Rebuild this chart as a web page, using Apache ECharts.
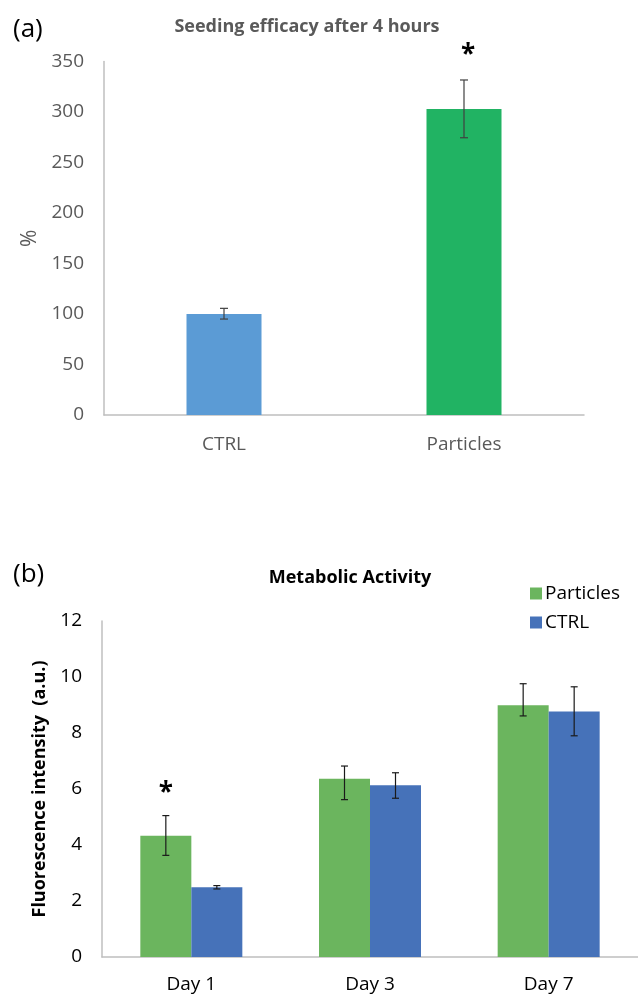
<!DOCTYPE html>
<html>
<head>
<meta charset="utf-8">
<script src="https://cdn.jsdelivr.net/npm/echarts@6/dist/echarts.min.js"></script>
<style>
html,body{margin:0;padding:0;background:#fff;}
#chart{width:638px;height:995px;}
</style>
</head>
<body>
<div id="chart"></div>
<script>
// ---- Panel (a): Seeding efficacy after 4 hours ----
var catsA = ['CTRL', 'Particles'];
var valsA = [100, 303];
var lowA = [95, 274.5];
var highA = [105.6, 331.7];
var sigA = [false, true];
var colorsA = ['#5B9BD5', '#21B363'];
var yTicksA = [0, 50, 100, 150, 200, 250, 300, 350];

// ---- Panel (b): Metabolic Activity ----
var catsB = ['Day 1', 'Day 3', 'Day 7'];
var particlesB = [4.33, 6.37, 8.99];
var particlesLowB = [3.63, 5.62, 8.61];
var particlesHighB = [5.05, 6.82, 9.76];
var ctrlB = [2.49, 6.13, 8.77];
var ctrlLowB = [2.43, 5.67, 7.90];
var ctrlHighB = [2.55, 6.58, 9.65];
var sigB = [true, false, false];
var yTicksB = [0, 2, 4, 6, 8, 10, 12];

var FONT = 'Open Sans';
var BAR_A = 75, BAR_B = 51;

function errData(cats, low, high) {
  return cats.map(function (c, i) { return [i, low[i], high[i]]; });
}
function starData(cats, high, sig) {
  var out = [];
  cats.forEach(function (c, i) { if (sig[i]) out.push([i, high[i]]); });
  return out;
}
function errRender(offset, cap, color) {
  return function (params, api) {
    var lo = api.coord([api.value(0), api.value(1)]);
    var hi = api.coord([api.value(0), api.value(2)]);
    var x = lo[0] + offset;
    var s = { stroke: color, lineWidth: 1.2 };
    return {
      type: 'group',
      children: [
        { type: 'line', shape: { x1: x, y1: lo[1], x2: x, y2: hi[1] }, style: s },
        { type: 'line', shape: { x1: x - cap, y1: lo[1], x2: x + cap, y2: lo[1] }, style: s },
        { type: 'line', shape: { x1: x - cap, y1: hi[1], x2: x + cap, y2: hi[1] }, style: s }
      ]
    };
  };
}
function starRender(offsetX, offsetY) {
  return function (params, api) {
    var p = api.coord([api.value(0), api.value(1)]);
    return {
      type: 'text',
      style: {
        x: p[0] + offsetX, y: p[1] - offsetY, text: '*',
        fill: '#000', font: 'bold 26px ' + FONT,
        align: 'center', verticalAlign: 'middle'
      }
    };
  };
}

var chart = echarts.init(document.getElementById('chart'), null, { renderer: 'canvas' });
chart.setOption({
  backgroundColor: '#fff',
  animation: false,
  title: [
    { text: '(a)', left: 8, top: 12, textStyle: { fontFamily: FONT, fontSize: 26, fontWeight: 'normal', color: '#000' } },
    { text: 'Seeding efficacy after 4 hours', left: 302, top: 13, textAlign: 'center',
      textStyle: { fontFamily: FONT, fontSize: 18, fontWeight: 'bold', color: '#595959' } },
    { text: '(b)', left: 8, top: 557, textStyle: { fontFamily: FONT, fontSize: 26, fontWeight: 'normal', color: '#000' } },
    { text: 'Metabolic Activity', left: 345, top: 564, textAlign: 'center',
      textStyle: { fontFamily: FONT, fontSize: 18, fontWeight: 'bold', color: '#000' } }
  ],
  legend: {
    data: ['Particles', 'CTRL'],
    orient: 'vertical',
    left: 525, top: 579,
    itemWidth: 12, itemHeight: 12, itemGap: 10,
    icon: 'rect',
    textStyle: { fontFamily: FONT, fontSize: 19, color: '#000', padding: [0, 0, 0, -2] }
  },
  grid: [
    { left: 104, right: 54, top: 61.5, bottom: 580 },
    { left: 102, right: -1, top: 621, bottom: 38 }
  ],
  xAxis: [
    { type: 'category', gridIndex: 0, data: catsA,
      axisLine: { lineStyle: { color: '#bfbfbf', width: 1.5 } }, axisTick: { show: false },
      axisLabel: { margin: 20, fontFamily: FONT, fontSize: 19, color: '#595959' } },
    { type: 'category', gridIndex: 1, data: catsB,
      axisLine: { lineStyle: { color: '#bfbfbf', width: 1.5 } }, axisTick: { show: false },
      axisLabel: { margin: 18, fontFamily: FONT, fontSize: 19, color: '#000' } }
  ],
  yAxis: [
    { type: 'value', gridIndex: 0, min: yTicksA[0], max: yTicksA[yTicksA.length - 1], interval: yTicksA[1] - yTicksA[0],
      name: '%', nameLocation: 'middle', nameGap: 62,
      nameTextStyle: { fontFamily: FONT, fontSize: 21, color: '#595959' },
      axisLine: { show: true, lineStyle: { color: '#bfbfbf', width: 1.5 } }, axisTick: { show: false },
      splitLine: { show: false },
      axisLabel: { margin: 20, fontFamily: FONT, fontSize: 19, color: '#595959' } },
    { type: 'value', gridIndex: 1, min: yTicksB[0], max: yTicksB[yTicksB.length - 1], interval: yTicksB[1] - yTicksB[0],
      name: 'Fluorescence intensity  (a.u.)', nameLocation: 'middle', nameGap: 49,
      nameTextStyle: { fontFamily: FONT, fontSize: 18, fontWeight: 'bold', color: '#000' },
      axisLine: { show: true, lineStyle: { color: '#bfbfbf', width: 1.5 } }, axisTick: { show: false },
      splitLine: { show: false },
      axisLabel: { margin: 20, fontFamily: FONT, fontSize: 19, color: '#000' } }
  ],
  series: [
    { name: 'Seeding efficacy', type: 'bar', xAxisIndex: 0, yAxisIndex: 0, barWidth: BAR_A,
      data: valsA.map(function (v, i) { return { value: v, itemStyle: { color: colorsA[i] } }; }) },
    { name: 'errA', type: 'custom', xAxisIndex: 0, yAxisIndex: 0, z: 5,
      renderItem: errRender(0, 4, '#404040'), data: errData(catsA, lowA, highA) },
    { name: 'starA', type: 'custom', xAxisIndex: 0, yAxisIndex: 0, z: 5,
      renderItem: starRender(4, 24), data: starData(catsA, highA, sigA) },

    { name: 'Particles', type: 'bar', xAxisIndex: 1, yAxisIndex: 1, barWidth: BAR_B, barGap: '0%',
      itemStyle: { color: '#6BB55E' }, data: particlesB },
    { name: 'CTRL', type: 'bar', xAxisIndex: 1, yAxisIndex: 1, barWidth: BAR_B, barGap: '0%',
      itemStyle: { color: '#4672B9' }, data: ctrlB },
    { name: 'errPB', type: 'custom', xAxisIndex: 1, yAxisIndex: 1, z: 5,
      renderItem: errRender(-BAR_B / 2, 3.5, '#1a1a1a'), data: errData(catsB, particlesLowB, particlesHighB) },
    { name: 'errCB', type: 'custom', xAxisIndex: 1, yAxisIndex: 1, z: 5,
      renderItem: errRender(BAR_B / 2, 3.5, '#1a1a1a'), data: errData(catsB, ctrlLowB, ctrlHighB) },
    { name: 'starB', type: 'custom', xAxisIndex: 1, yAxisIndex: 1, z: 5,
      renderItem: starRender(-BAR_B / 2, 22), data: starData(catsB, particlesHighB, sigB) }
  ]
});
</script>
</body>
</html>
